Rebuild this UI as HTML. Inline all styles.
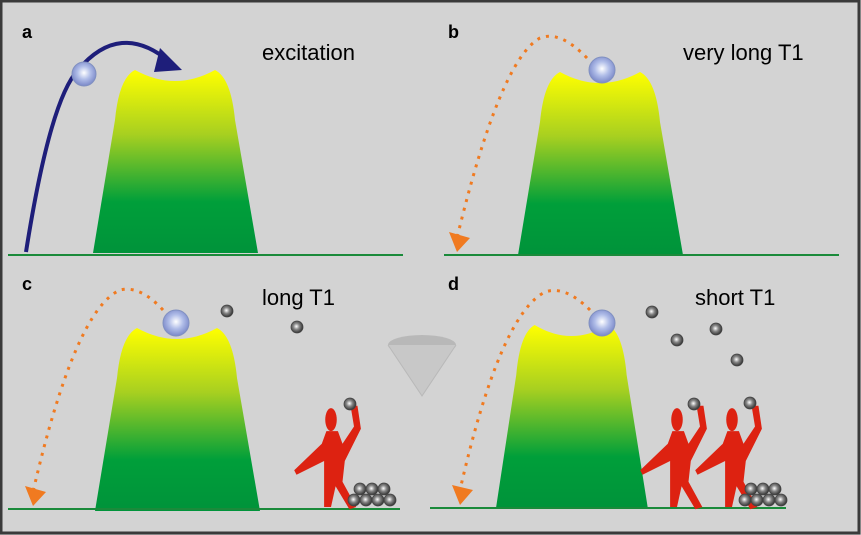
<!DOCTYPE html>
<html><head><meta charset="utf-8"><style>
html,body{margin:0;padding:0;background:#d3d3d3}
svg{display:block}
text{font-family:"Liberation Sans",Arial,sans-serif}
</style></head><body>
<svg width="861" height="535" viewBox="0 0 861 535" xmlns="http://www.w3.org/2000/svg">
<defs>
<linearGradient id="mg" x1="0" y1="0" x2="0" y2="1">
<stop offset="0" stop-color="#ffff00"/>
<stop offset="0.35" stop-color="#a8d020"/>
<stop offset="0.72" stop-color="#009f3a"/>
<stop offset="1" stop-color="#00933a"/>
</linearGradient>
<radialGradient id="bl" cx="0.5" cy="0.45" r="0.55">
<stop offset="0" stop-color="#ffffff"/>
<stop offset="0.5" stop-color="#b0bde8"/>
<stop offset="1" stop-color="#7a88c8"/>
</radialGradient>
<radialGradient id="gb" cx="0.45" cy="0.45" r="0.55">
<stop offset="0" stop-color="#ffffff"/>
<stop offset="0.45" stop-color="#888"/>
<stop offset="1" stop-color="#333"/>
</radialGradient>
<path id="mt" d="M0,183 L22,50 Q26,8 42,0 Q82,22 122,0 Q138,8 142,50 L165,183 Z" fill="url(#mg)"/>
<g id="fig" fill="#dd2211" transform="scale(1.15)">
<ellipse cx="0" cy="-76" rx="5" ry="10"/>
<path d="M-4,-66 L6,-66 L10,-55 L20,-70 L17,-88 L23,-88 L26,-68 L12,-40 L10,-22 L22,0 L16,2 L4,-18 L0,0 L-6,0 L-6,-40 L-30,-28 L-32,-32 L-8,-55 Z"/>
</g>
<g id="sb"><circle r="6" fill="url(#gb)" stroke="#444" stroke-width="0.8"/></g>
</defs>
<rect x="0" y="0" width="861" height="535" fill="#d3d3d3"/>
<rect x="1" y="1" width="858" height="532" fill="none" stroke="#3a3a3a" stroke-width="3"/>

<!-- a -->
<text x="22" y="38" font-size="18" font-weight="bold">a</text>
<text x="262" y="60" font-size="22">excitation</text>
<use href="#mt" x="93" y="70"/>
<line x1="8" y1="255" x2="403" y2="255" stroke="#1a8a3a" stroke-width="2"/>
<path d="M26,252 Q50,100 78,70 Q120,20 170,62" fill="none" stroke="#1e1e7a" stroke-width="4"/>
<polygon points="160,48 182,70 154,72" fill="#1e1e7a"/>
<circle cx="84" cy="74" r="12" fill="url(#bl)" stroke="#8090c0" stroke-width="1"/>

<!-- b -->
<text x="448" y="38" font-size="18" font-weight="bold">b</text>
<text x="683" y="60" font-size="22">very long T1</text>
<use href="#mt" x="518" y="72"/>
<line x1="444" y1="255" x2="839" y2="255" stroke="#1a8a3a" stroke-width="2"/>
<path d="M587,58 Q560,30 540,38 Q500,60 457,238" fill="none" stroke="#f07a20" stroke-width="3" stroke-dasharray="3,6"/>
<polygon points="449,232 470,238 457,252" fill="#f07a20"/>
<circle cx="602" cy="70" r="13" fill="url(#bl)" stroke="#8090c0" stroke-width="1"/>

<!-- c -->
<text x="22" y="290" font-size="18" font-weight="bold">c</text>
<text x="262" y="305" font-size="22">long T1</text>
<use href="#mt" x="95" y="328"/>
<line x1="8" y1="509" x2="400" y2="509" stroke="#1a8a3a" stroke-width="2"/>
<path d="M163,310 Q140,285 120,290 Q75,310 33,492" fill="none" stroke="#f07a20" stroke-width="3" stroke-dasharray="3,6"/>
<polygon points="25,486 46,492 33,506" fill="#f07a20"/>
<circle cx="176" cy="323" r="13" fill="url(#bl)" stroke="#8090c0" stroke-width="1"/>
<use href="#sb" x="227" y="311"/>
<use href="#sb" x="297" y="327"/>
<use href="#fig" x="331" y="507"/>
<use href="#sb" x="350" y="404"/>
<use href="#sb" x="354" y="500"/><use href="#sb" x="366" y="500"/><use href="#sb" x="378" y="500"/><use href="#sb" x="390" y="500"/>
<use href="#sb" x="360" y="489"/><use href="#sb" x="372" y="489"/><use href="#sb" x="384" y="489"/>

<!-- center cone -->
<g opacity="0.45">
<ellipse cx="422" cy="345" rx="34" ry="10" fill="#999"/>
<path d="M388,345 L422,396 L456,345" fill="#bbb" stroke="#999"/>
</g>

<!-- d -->
<text x="448" y="290" font-size="18" font-weight="bold">d</text>
<text x="695" y="305" font-size="22">short T1</text>
<use href="#mt" transform="translate(496,325) scale(0.92,1)"/>
<line x1="430" y1="508" x2="786" y2="508" stroke="#1a8a3a" stroke-width="2"/>
<path d="M590,310 Q565,285 545,292 Q500,315 460,490" fill="none" stroke="#f07a20" stroke-width="3" stroke-dasharray="3,6"/>
<polygon points="452,485 473,490 460,505" fill="#f07a20"/>
<circle cx="602" cy="323" r="13" fill="url(#bl)" stroke="#8090c0" stroke-width="1"/>
<use href="#sb" x="652" y="312"/>
<use href="#sb" x="677" y="340"/>
<use href="#sb" x="716" y="329"/>
<use href="#sb" x="737" y="360"/>
<use href="#fig" x="677" y="507"/>
<use href="#sb" x="694" y="404"/>
<use href="#fig" x="732" y="507"/>
<use href="#sb" x="750" y="403"/>
<use href="#sb" x="745" y="500"/><use href="#sb" x="757" y="500"/><use href="#sb" x="769" y="500"/><use href="#sb" x="781" y="500"/>
<use href="#sb" x="751" y="489"/><use href="#sb" x="763" y="489"/><use href="#sb" x="775" y="489"/>
</svg>
</body></html>
